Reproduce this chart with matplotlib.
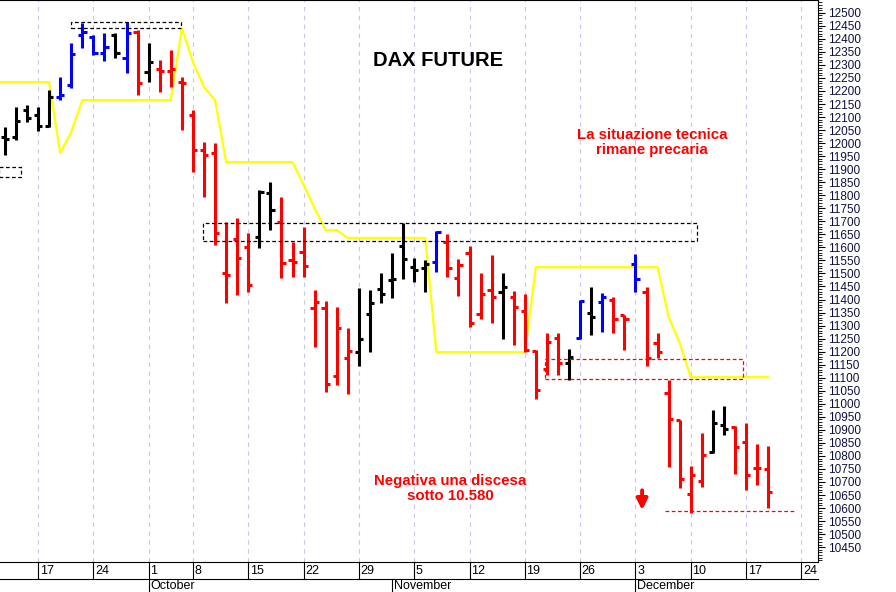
import matplotlib.pyplot as plt
from matplotlib.ticker import MultipleLocator
from matplotlib.patches import Rectangle

plt.rcParams['font.family'] = ['Liberation Sans', 'DejaVu Sans']

# trading-day index, 0 = Mon 17 Sep (3 Oct holiday skipped)
start_idx = -3
opens = [12022, 12022, 12128, 12107, 12064, 12176, 12223, 12414, 12408, 12344,
         12415, 12325, 12427, 12274, 12285, 12275, 12236, 12108, 11973, 11961,
         11500, 11634, 11603, 11641, 11807, 11699, 11550, 11583, 11369, 11369,
         11106, 11176, 11197, 11344, 11442, 11474, 11605, 11523, 11519, 11542,
         11621, 11481, 11580, 11344, 11436, 11430, 11410, 11357, 11203, 11135,
         11254, 11155, 11254, 11349, 11391, 11400, 11340, 11538, 11430, 11232,
         11042, 10937, 10653, 10705, 10816, 10918, 10912, 10854, 10755, 10749]
highs = [12061, 12138, 12146, 12138, 12202, 12253, 12383, 12460, 12415, 12421,
         12421, 12466, 12434, 12383, 12319, 12357, 12255, 12127, 12005, 11999,
         11698, 11711, 11654, 11820, 11852, 11794, 11621, 11679, 11436, 11395,
         11372, 11289, 11446, 11436, 11502, 11577, 11694, 11561, 11551, 11664,
         11653, 11557, 11607, 11500, 11570, 11502, 11432, 11423, 11206, 11270,
         11272, 11212, 11400, 11449, 11426, 11408, 11340, 11574, 11449, 11270,
         11093, 10937, 10761, 10889, 10976, 10991, 10914, 10925, 10845, 10838]
lows = [11954, 12011, 12080, 12046, 12061, 12165, 12211, 12365, 12338, 12315,
        12325, 12268, 12184, 12236, 12197, 12216, 12050, 11890, 11794, 11609,
        11385, 11417, 11430, 11596, 11666, 11481, 11487, 11487, 11219, 11046,
        11071, 11039, 11144, 11199, 11387, 11404, 11477, 11468, 11430, 11506,
        11487, 11413, 11293, 11327, 11308, 11247, 11225, 11199, 11020, 11110,
        11112, 11091, 11250, 11263, 11276, 11272, 11206, 11430, 11145, 11174,
        10756, 10675, 10582, 10679, 10812, 10880, 10729, 10669, 10688, 10601]
closes = [12016, 12085, 12096, 12064, 12177, 12186, 12340, 12425, 12344, 12370,
          12344, 12421, 12229, 12312, 12275, 12285, 12230, 11973, 11954, 11654,
          11494, 11558, 11455, 11814, 11743, 11539, 11545, 11528, 11391, 11075,
          11291, 11202, 11250, 11385, 11421, 11479, 11555, 11515, 11538, 11660,
          11522, 11534, 11308, 11421, 11410, 11449, 11372, 11206, 11052, 11238,
          11155, 11180, 11395, 11334, 11411, 11327, 11327, 11477, 11177, 11200,
          10940, 10710, 10726, 10803, 10925, 10902, 10835, 10726, 10752, 10662]
colors = "kkkkkbbbbbkbrkrrrrrrrrrkkrrrrrrrkkkkkkkbrrrrrkrrrrrkbkbrrbrrrrrrkkrrrr"

# trailing stop line, starting one day before the first bar
stop_start = -4
stop_line = [12234, 12234, 12234, 12234, 12234, 12234, 11962, 12043, 12165, 12165,
             12165, 12165, 12165, 12165, 12165, 12165, 12165, 12441, 12311, 12215,
             12165, 11927, 11927, 11927, 11927, 11927, 11927, 11927, 11840, 11750,
             11666, 11666, 11636, 11636, 11636, 11636, 11636, 11636, 11636, 11636,
             11198, 11198, 11198, 11198, 11198, 11198, 11198, 11198, 11198, 11524,
             11524, 11524, 11524, 11524, 11524, 11524, 11524, 11524, 11524, 11524,
             11524, 11333, 11233, 11102, 11102, 11102, 11102, 11102, 11102, 11102,
             11102]

week_pos = [0, 5, 10, 14, 19, 24, 29, 34, 39, 44, 49, 54, 59, 64, 69]
week_labels = ["17", "24", "1", "8", "15", "22", "29", "5", "12", "19", "26", "3", "10", "17", "24"]
month_pos = [10, 32, 54]
month_labels = ["October", "November", "December"]

cmap = {"k": "black", "b": "#0000ff", "r": "#ff0000"}

fig = plt.figure(figsize=(8.96, 5.92), dpi=100)
ax = fig.add_axes([0, 30 / 592, 818 / 896, 562 / 592])
ax.set_xlim(-3.44, 70.5)
ax.set_ylim(10393, 12549)

xs = list(range(start_idx, start_idx + len(opens)))
for x in week_pos:
    ax.axvline(x, color="#c8c8e8", lw=0.8, ls=(0, (4, 4)), zorder=0)

stop_x = list(range(stop_start, stop_start + len(stop_line)))
ax.plot(stop_x, stop_line, color="#ffff00", lw=1.6, zorder=2)

for x, o, h, l, c, col in zip(xs, opens, highs, lows, closes, colors):
    cc = cmap[col]
    ax.vlines(x, l, h, color=cc, lw=2.2, zorder=3)
    ax.hlines(o, x - 0.38, x, color=cc, lw=2.2, zorder=3)
    ax.hlines(c, x, x + 0.38, color=cc, lw=2.2, zorder=3)

dash = (0, (3, 2))
ax.add_patch(Rectangle((2.95, 12441), 10.0, 24, fill=False, ec="black", lw=0.9, ls=dash, zorder=4))
ax.add_patch(Rectangle((-3.5, 11870), 1.95, 38, fill=False, ec="black", lw=0.9, ls=dash, zorder=4))
ax.add_patch(Rectangle((14.9, 11625), 44.7, 67, fill=False, ec="black", lw=0.9, ls=dash, zorder=4))
ax.add_patch(Rectangle((45.8, 11094), 17.9, 77, fill=False, ec="#ff0000", lw=0.9, ls=dash, zorder=4))
ax.hlines(10587, 56.7, 68.4, color="#ff0000", lw=0.9, ls=dash, zorder=4)
ax.annotate("", xy=(54.6, 10592), xytext=(54.6, 10668),
            arrowprops=dict(arrowstyle="-|>", color="#ff0000", lw=2.8, mutation_scale=16,
                            shrinkA=0, shrinkB=0))

ax.text(0.535, 0.892, "DAX FUTURE", transform=ax.transAxes, ha="center", va="center",
        fontsize=14.5, fontweight="bold")
ax.text(0.797, 0.747, "La situazione tecnica\nrimane precaria", transform=ax.transAxes,
        ha="center", va="center", fontsize=10.8, fontweight="bold", color="#ff0000", linespacing=1.1)
ax.text(0.55, 0.13, "Negativa una discesa\nsotto 10.580", transform=ax.transAxes,
        ha="center", va="center", fontsize=10.8, fontweight="bold", color="#ff0000", linespacing=1.1)

# right price axis
ax.yaxis.tick_right()
ax.yaxis.set_major_locator(MultipleLocator(50))
ax.yaxis.set_minor_locator(MultipleLocator(10))
ax.set_yticks(range(10450, 12501, 50))
ax.tick_params(axis="y", which="major", length=5, labelsize=8.5, pad=2, labelcolor="#101040")
ax.tick_params(axis="y", which="minor", length=3)
ax.spines["left"].set_visible(False)
ax.set_xticks([])

# bottom date strip
tr = ax.get_xaxis_transform()
for x, lab in zip(week_pos, week_labels):
    ax.plot([x, x], [0, -17 / 562], transform=tr, color="black", lw=0.8, clip_on=False)
    ax.text(x + 0.15, -9 / 562, lab, transform=tr, ha="left", va="center", fontsize=9, clip_on=False)
ax.plot([-3.44, 70.5], [-17 / 562, -17 / 562], transform=tr, color="black", lw=0.8, clip_on=False)
for x, lab in zip(month_pos, month_labels):
    ax.plot([x, x], [-17 / 562, -30 / 562], transform=tr, color="black", lw=0.8, clip_on=False)
    ax.text(x + 0.15, -24 / 562, lab, transform=tr, ha="left", va="center", fontsize=9, clip_on=False)

fig.savefig("out.png", dpi=100)
